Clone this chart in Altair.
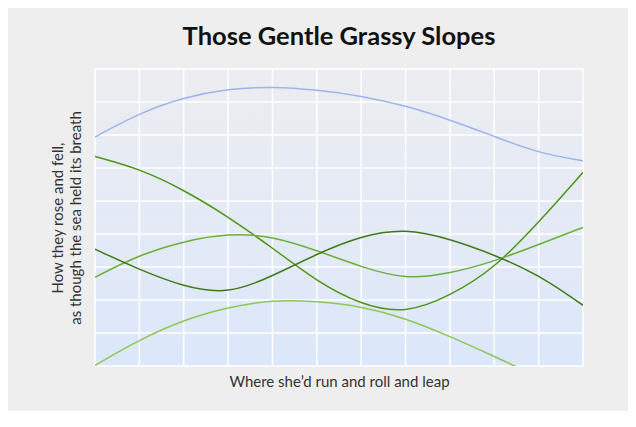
import altair as alt
import pandas as pd

xs = list(range(12))
ys = list(range(10))
series_names = ["Sky", "Slope A", "Slope B", "Slope C", "Slope D"]
sky = [6.94, 7.67, 8.14, 8.40, 8.47, 8.37, 8.19, 7.89, 7.46, 6.96, 6.45, 6.22]
slope_a = [6.35, 5.98, 5.34, 4.53, 3.58, 2.56, 1.85, 1.58, 2.12, 2.95, 4.35, 5.87]
slope_b = [2.69, 3.37, 3.78, 4.02, 3.94, 3.50, 3.00, 2.62, 2.80, 3.17, 3.68, 4.20]
slope_c = [3.54, 2.92, 2.40, 2.17, 2.72, 3.40, 3.95, 4.17, 3.85, 3.37, 2.77, 1.84]
slope_d = [0.02, 0.80, 1.40, 1.78, 2.01, 1.96, 1.81, 1.45, 0.90, 0.29, -0.33, -1.10]
colors = ["#9db4ee", "#4f9415", "#6caf38", "#3f7a18", "#8cc653"]

rows = []
for name, vals in zip(series_names, [sky, slope_a, slope_b, slope_c, slope_d]):
    for x, v in zip(xs, vals):
        rows.append({"x": x, "y": v, "series": name})
df = pd.DataFrame(rows)

W, H = 488, 297
XT = "Where she\u2019d run and roll and leap"
YT = ["How they rose and fell,", "as though the sea held its breath"]

xscale = alt.Scale(domain=[0, 11], nice=False)
yscale = alt.Scale(domain=[0, 9], nice=False)
xaxis = alt.Axis(title=XT, labels=False, ticks=False, domain=False, grid=False,
                 titleFont="Lato", titleFontSize=15, titleFontWeight="normal",
                 titleColor="#333333", titlePadding=8)
yaxis = alt.Axis(title=YT, labels=False, ticks=False, domain=False, grid=False,
                 titleFont="Lato", titleFontSize=15, titleFontWeight="normal",
                 titleColor="#333333", titlePadding=12, titleLineHeight=18)

bg = alt.Chart(pd.DataFrame({"a": [0]})).mark_rect(
    color=alt.Gradient(
        gradient="linear",
        stops=[alt.GradientStop(color="#ecedf0", offset=0),
               alt.GradientStop(color="#dce7fb", offset=1)],
        x1=0, x2=0, y1=0, y2=1,
    )
).encode(x=alt.value(0), x2=alt.value(W), y=alt.value(0), y2=alt.value(H))

gx = alt.Chart(pd.DataFrame({"x": xs})).mark_rule(color="#ffffff", strokeWidth=1.5).encode(
    x=alt.X("x:Q", scale=xscale, axis=xaxis))
gy = alt.Chart(pd.DataFrame({"y": ys})).mark_rule(color="#ffffff", strokeWidth=1.5).encode(
    y=alt.Y("y:Q", scale=yscale, axis=yaxis))

lines = alt.Chart(df).mark_line(interpolate="basis", strokeWidth=1.5, clip=True).encode(
    x=alt.X("x:Q", scale=xscale, axis=xaxis),
    y=alt.Y("y:Q", scale=yscale, axis=yaxis),
    color=alt.Color("series:N", scale=alt.Scale(domain=series_names, range=colors), legend=None),
)

chart = alt.layer(bg, gx, gy, lines).properties(
    width=W, height=H,
    title=alt.TitleParams("Those Gentle Grassy Slopes", font="Lato", fontSize=25.5,
                          fontWeight="bold", color="#111111", anchor="middle", offset=18),
    autosize=alt.AutoSizeParams(type="none"),
    padding={"left": 87, "top": 61, "right": 45, "bottom": 45},
).configure(background="#eeeeee").configure_view(stroke=None)

chart.save("out.html", embed_options={"renderer": "svg", "actions": False})
